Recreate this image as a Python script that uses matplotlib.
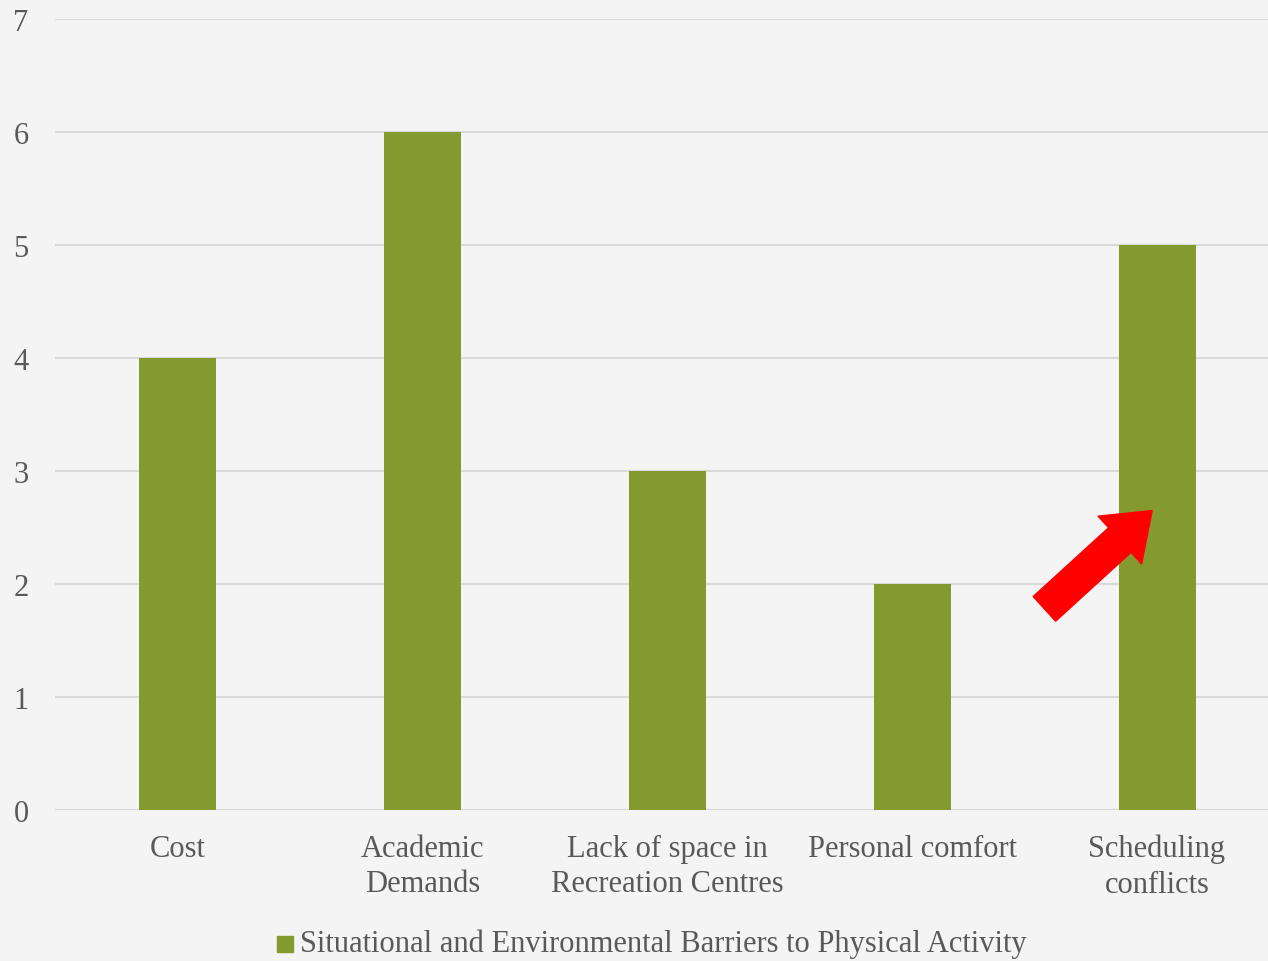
import matplotlib.pyplot as plt
from matplotlib.patches import FancyArrowPatch, Rectangle

categories = ["Cost", "Academic\nDemands", "Lack of space in\nRecreation Centres",
              "Personal comfort", "Scheduling\nconflicts"]
counts = [4, 6, 3, 2, 5]
series_name = "Situational and Environmental Barriers to Physical Activity"

bg = "#f4f4f4"
bar_color = "#849a2e"
text_color = "#595959"
plt.rcParams['font.family'] = ['Liberation Serif', 'DejaVu Serif']

fig = plt.figure(figsize=(12.68, 9.62), dpi=100, facecolor=bg)
ax = fig.add_axes([55 / 1268, 151 / 962, 1 - 55 / 1268, 791 / 962])
ax.set_facecolor(bg)

x = range(len(categories))
ax.bar(x, counts, width=0.314, color=bar_color, zorder=3)

ax.set_ylim(0, 7)
ax.set_xlim(-0.5, 4.453)
ax.set_yticks(range(8))
ax.yaxis.grid(True, color="#d9d9d9", linewidth=1.5, zorder=0)
ax.set_xticks(list(x))
ax.set_xticklabels(categories, fontsize=22, color=text_color, linespacing=1.3)
ax.tick_params(axis='y', labelsize=22, labelcolor=text_color, length=0, pad=19)
ax.tick_params(axis='x', length=0, pad=17)
for s in ax.spines.values():
    s.set_visible(False)

# red arrow pointing at the scheduling bar
arrow = FancyArrowPatch((3.54, 1.78), (3.98, 2.65),
                        arrowstyle="simple,head_width=3.1,head_length=2.1,tail_width=1.6",
                        mutation_scale=15, color="#ff0000", zorder=5,
                        shrinkA=0, shrinkB=0, joinstyle='round')
ax.add_patch(arrow)

# legend drawn below the axis
fig.patches.append(Rectangle((277 / 1268, (962 - 953) / 962), 16 / 1268, 16 / 962,
                             transform=fig.transFigure, color=bar_color))
fig.text(300 / 1268, (962 - 944) / 962, series_name, fontsize=22,
         color=text_color, va='center', ha='left')

fig.savefig("out.png", dpi=100, facecolor=bg)
